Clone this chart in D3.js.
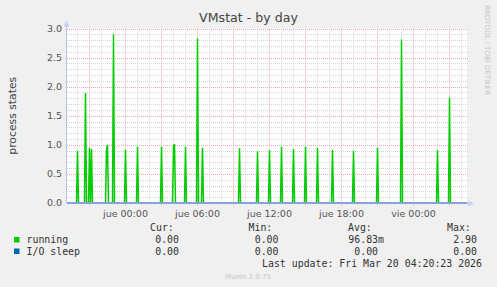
<!DOCTYPE html>
<html lang="es">
<head>
<meta charset="utf-8">
<title>VMstat - by day</title>
<script src="https://d3js.org/d3.v7.min.js"></script>
<style>
  html, body { margin: 0; padding: 0; background: #f0f0f0; }
  svg { display: block; }
  .mono { font-family: "DejaVu Sans Mono", monospace; font-size: 9.9px; fill: #333; }
</style>
</head>
<body>
<script>
// data (5 minute samples, zero elsewhere)
var runningTimes = ["2026-03-18T20:00", "2026-03-18T20:40", "2026-03-18T21:00", "2026-03-18T21:10",
  "2026-03-18T22:25", "2026-03-18T22:30", "2026-03-18T23:00", "2026-03-19T00:00", "2026-03-19T01:00",
  "2026-03-19T03:00", "2026-03-19T04:00", "2026-03-19T04:05", "2026-03-19T05:00", "2026-03-19T06:00",
  "2026-03-19T06:25", "2026-03-19T09:30", "2026-03-19T11:00", "2026-03-19T12:00", "2026-03-19T13:00",
  "2026-03-19T14:00", "2026-03-19T15:00", "2026-03-19T16:00", "2026-03-19T17:15", "2026-03-19T19:00",
  "2026-03-19T21:00", "2026-03-19T23:00", "2026-03-20T02:00", "2026-03-20T03:00"];
var runningValues = [0.90, 1.89, 0.95, 0.93,
  0.92, 1.00, 2.90, 0.92, 0.97,
  0.97, 0.99, 1.00, 0.97, 2.83,
  0.95, 0.94, 0.89, 0.91, 0.97,
  0.93, 0.97, 0.95, 0.91, 0.90,
  0.95, 2.81, 0.91, 1.81];
var ioSleepValue = 0;

var yTicks = [0, 0.5, 1.0, 1.5, 2.0, 2.5, 3.0];
var xTickLabels = ["jue 00:00", "jue 06:00", "jue 12:00", "jue 18:00", "vie 00:00"];
var xTickTimes = ["2026-03-19T00:00", "2026-03-19T06:00", "2026-03-19T12:00", "2026-03-19T18:00", "2026-03-20T00:00"];

var legendNames = ["running", "I/O sleep"];
var legendColors = ["#00cc00", "#0066b3"];
var legendCur = ["0.00", "0.00"];
var legendMin = ["0.00", "0.00"];
var legendAvg = ["96.83m", "0.00 "];
var legendMax = ["2.90", "0.00"];

var W = 497, H = 287;
var plot = {left: 67, right: 467, top: 28.5, bottom: 203};

var parse = d3.timeParse("%Y-%m-%dT%H:%M");
var tStart = new Date(2026, 2, 18, 19, 7, 30);
var tEnd = new Date(2026, 2, 20, 4, 27, 30);

var x = d3.scaleTime().domain([tStart, tEnd]).range([plot.left, plot.right]);
var y = d3.scaleLinear().domain([0, 3]).range([plot.bottom, plot.top]);

var svg = d3.select("body").append("svg")
  .attr("width", W).attr("height", H)
  .style("font-family", "'DejaVu Sans', sans-serif");

svg.append("rect").attr("width", W).attr("height", H).attr("fill", "#f0f0f0");
svg.append("rect")
  .attr("x", plot.left).attr("y", plot.top)
  .attr("width", plot.right - plot.left).attr("height", plot.bottom - plot.top)
  .attr("fill", "#ffffff");

// grid
var minorColor = "#d4d4d4", majorColor = "#f2a8a8";
var g = svg.append("g");
var minorY = d3.range(0, 31).map(function(i) { return i / 10; });
g.selectAll(".hminor").data(minorY.filter(function(v, i) { return i % 5 != 0; }))
  .enter().append("line")
  .attr("x1", plot.left).attr("x2", plot.right + 2)
  .attr("y1", function(d) { return Math.round(y(d)) + 0.5; })
  .attr("y2", function(d) { return Math.round(y(d)) + 0.5; })
  .attr("stroke", minorColor).attr("stroke-dasharray", "1,1");
g.selectAll(".hmajor").data(yTicks.slice(1))
  .enter().append("line")
  .attr("x1", plot.left).attr("x2", plot.right + 2)
  .attr("y1", function(d) { return Math.round(y(d)) + 0.5; })
  .attr("y2", function(d) { return Math.round(y(d)) + 0.5; })
  .attr("stroke", majorColor).attr("stroke-dasharray", "1,1");

var hours = d3.timeHour.range(tStart, tEnd);
g.selectAll(".vgrid").data(hours)
  .enter().append("line")
  .attr("x1", function(d) { return Math.floor(x(d)) + 0.5; })
  .attr("x2", function(d) { return Math.floor(x(d)) + 0.5; })
  .attr("y1", plot.top).attr("y2", function(d) { return plot.bottom + (d.getHours() % 3 == 0 ? 3 : 1); })
  .attr("stroke", function(d) { return d.getHours() % 3 == 0 ? majorColor : minorColor; })
  .attr("stroke-dasharray", "1,1");

// series: walk the 5 minute steps, zero where no sample was read
var samples = new Map();
runningTimes.forEach(function(t, i) { samples.set(+parse(t), runningValues[i]); });
var steps = d3.timeMinute.every(5).range(tStart, tEnd);
var running = steps.map(function(t) { return {t: t, v: samples.get(+t) || 0}; });

var line = d3.line()
  .x(function(d) { return x(d.t); })
  .y(function(d) { return y(d.v); });

svg.append("path").datum(running)
  .attr("d", line)
  .attr("fill", "none")
  .attr("stroke", "#00cc00")
  .attr("stroke-width", 1.5);

// I/O sleep stays at zero, drawn over the running baseline
svg.append("line")
  .attr("x1", plot.left).attr("x2", plot.right)
  .attr("y1", y(ioSleepValue)).attr("y2", y(ioSleepValue))
  .attr("stroke", "#86a2d8").attr("stroke-width", 1.8);

// axes with arrows
var axisColor = "#b4bfee";
svg.append("line").attr("x1", plot.left - 0.5).attr("x2", plot.left - 0.5)
  .attr("y1", plot.top - 4).attr("y2", plot.bottom + 0.5).attr("stroke", axisColor);
svg.append("line").attr("x1", plot.right).attr("x2", plot.right + 3)
  .attr("y1", plot.bottom + 0.5).attr("y2", plot.bottom + 0.5).attr("stroke", axisColor);
svg.append("path")
  .attr("d", "M" + (plot.left - 3.5) + "," + (plot.top - 2) + "L" + (plot.left - 0.5) + "," + (plot.top - 8) + "L" + (plot.left + 2.5) + "," + (plot.top - 2) + "Z")
  .attr("fill", "#c8d0f4");
svg.append("path")
  .attr("d", "M" + (plot.right + 1) + "," + (plot.bottom - 2.5) + "L" + (plot.right + 7) + "," + (plot.bottom + 0.5) + "L" + (plot.right + 1) + "," + (plot.bottom + 3.5) + "Z")
  .attr("fill", "#c8d0f4");

// tick labels
svg.selectAll(".ylab").data(yTicks)
  .enter().append("text")
  .attr("x", plot.left - 5).attr("y", function(d) { return y(d) + 3.3; })
  .attr("text-anchor", "end").attr("font-size", "9.5px").attr("fill", "#555")
  .text(function(d) { return d3.format(".1f")(d); });

svg.selectAll(".xlab").data(xTickTimes)
  .enter().append("text")
  .attr("x", function(d) { return x(parse(d)); }).attr("y", plot.bottom + 14)
  .attr("text-anchor", "middle").attr("font-size", "9.5px").attr("fill", "#555")
  .text(function(d, i) { return xTickLabels[i]; });

// titles
svg.append("text").attr("x", 248.5).attr("y", 22)
  .attr("text-anchor", "middle").attr("font-size", "12.6px").attr("fill", "#444")
  .text("VMstat - by day");
svg.append("text").attr("transform", "translate(16," + ((plot.top + plot.bottom) / 2) + ") rotate(-90)")
  .attr("text-anchor", "middle").attr("font-size", "10.8px").attr("fill", "#444")
  .text("process states");
svg.append("text").attr("transform", "translate(485,5) rotate(90)")
  .attr("font-size", "7px").attr("fill", "#c4c4c4")
  .text("RRDTOOL / TOBI OETIKER");

// legend
var rows = [243, 254.5];
svg.append("text").attr("class", "mono").attr("x", 150).attr("y", 231).text("Cur:");
svg.append("text").attr("class", "mono").attr("x", 248.5).attr("y", 231).text("Min:");
svg.append("text").attr("class", "mono").attr("x", 348).attr("y", 231).text("Avg:");
svg.append("text").attr("class", "mono").attr("x", 447).attr("y", 231).text("Max:");

legendNames.forEach(function(name, i) {
  svg.append("rect").attr("x", 14).attr("y", rows[i] - 6).attr("width", 5.5).attr("height", 5.5)
    .attr("fill", legendColors[i]);
  svg.append("text").attr("class", "mono").attr("x", 26.5).attr("y", rows[i]).text(name);
  svg.append("text").attr("class", "mono").attr("x", 179).attr("y", rows[i])
    .attr("text-anchor", "end").text(legendCur[i]);
  svg.append("text").attr("class", "mono").attr("x", 278.5).attr("y", rows[i])
    .attr("text-anchor", "end").text(legendMin[i]);
  svg.append("text").attr("class", "mono").attr("x", 384).attr("y", rows[i])
    .attr("text-anchor", "end").attr("xml:space", "preserve").style("white-space", "pre").text(legendAvg[i]);
  svg.append("text").attr("class", "mono").attr("x", 477).attr("y", rows[i])
    .attr("text-anchor", "end").text(legendMax[i]);
});

svg.append("text").attr("class", "mono").attr("x", 482).attr("y", 267)
  .attr("text-anchor", "end").text("Last update: Fri Mar 20 04:20:23 2026");

svg.append("text").attr("x", 248).attr("y", 278.5)
  .attr("text-anchor", "middle").attr("font-size", "7px").attr("fill", "#c8c8c8")
  .text("Munin 2.0.75");
</script>
</body>
</html>
